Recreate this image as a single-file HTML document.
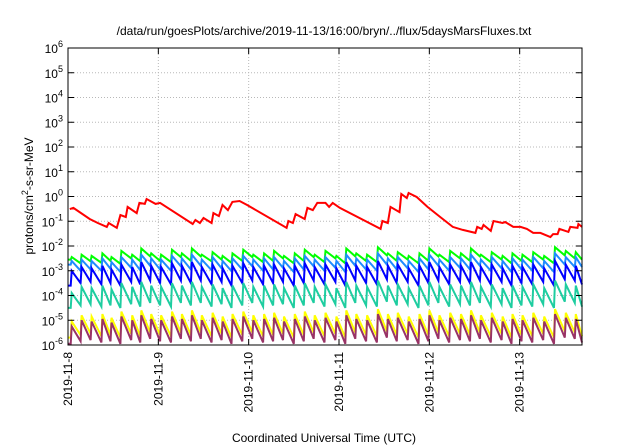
<!DOCTYPE html>
<html><head><meta charset="utf-8"><style>
body{margin:0;background:#fff}
svg{display:block;font-family:"Liberation Sans",sans-serif}
</style></head><body>
<svg id="chart" width="640" height="448" viewBox="0 0 640 448">
<rect width="640" height="448" fill="#fff"/>
<text x="324" y="35" font-size="12" text-anchor="middle">/data/run/goesPlots/archive/2019-11-13/16:00/bryn/../flux/5daysMarsFluxes.txt</text>
<text transform="translate(33,196) rotate(-90)" font-size="12" text-anchor="middle">protons/cm<tspan dy="-5" font-size="9">2</tspan><tspan dy="5">-s-sr-MeV</tspan></text>
<text x="324" y="442" font-size="12" text-anchor="middle">Coordinated Universal Time (UTC)</text>
<g id="grid"></g>
<g id="series"></g>
<g id="axes"></g>
</svg>
<script>
const xTickLabels = ["2019-11-8","2019-11-9","2019-11-10","2019-11-11","2019-11-12","2019-11-13"];
const xTickDays = [0,1,2,3,4,5];
const yTickExps = [-6,-5,-4,-3,-2,-1,0,1,2,3,4,5,6];
const xMaxDays = 5.69;
const redT = [0.02,0.06,0.24,0.33,0.43,0.45,0.54,0.58,0.64,0.66,0.76,0.79,0.85,0.87,0.97,1.02,1.38,1.41,1.46,1.50,1.59,1.61,1.67,1.71,1.77,1.82,1.90,1.98,2.42,2.44,2.49,2.52,2.62,2.65,2.71,2.76,2.85,2.89,2.93,3.01,3.46,3.48,3.54,3.57,3.67,3.69,3.75,3.77,3.86,3.98,4.12,4.26,4.37,4.51,4.53,4.58,4.60,4.68,4.71,4.81,4.84,4.93,5.01,5.08,5.15,5.23,5.34,5.37,5.42,5.44,5.54,5.56,5.64,5.65,5.69];
const redV = [-0.51,-0.46,-0.91,-1.07,-1.23,-1.07,-1.27,-0.75,-0.83,-0.42,-0.67,-0.26,-0.30,-0.10,-0.30,-0.26,-1.11,-0.95,-1.07,-0.87,-1.07,-0.67,-0.79,-0.34,-0.55,-0.22,-0.18,-0.34,-1.27,-0.99,-1.07,-0.71,-0.91,-0.46,-0.55,-0.26,-0.26,-0.42,-0.26,-0.46,-1.31,-0.99,-1.07,-0.42,-0.63,0.10,-0.06,0.14,-0.02,-0.42,-0.83,-1.23,-1.35,-1.47,-1.23,-1.31,-1.15,-1.39,-0.99,-1.07,-1.03,-1.23,-1.23,-1.31,-1.47,-1.47,-1.64,-1.52,-1.52,-1.31,-1.43,-1.23,-1.27,-1.11,-1.23];
const toothT = [0.03,0.14,0.25,0.37,0.47,0.58,0.70,0.80,0.91,1.02,1.14,1.25,1.36,1.47,1.59,1.70,1.81,1.93,2.04,2.16,2.27,2.38,2.50,2.61,2.72,2.84,2.96,3.07,3.18,3.30,3.42,3.53,3.64,3.76,3.88,3.99,4.10,4.22,4.34,4.45,4.56,4.68,4.80,4.91,5.02,5.14,5.26,5.38,5.50,5.61];
const gP = [-2.45,-2.35,-2.4,-2.3,-2.45,-2.2,-2.35,-2.1,-2.3,-2.35,-2.15,-2.3,-2.1,-2.35,-2.25,-2.4,-2.3,-2.15,-2.35,-2.3,-2.2,-2.4,-2.3,-2.15,-2.35,-2.2,-2.4,-2.1,-2.3,-2.35,-2.05,-2.3,-2.25,-2.4,-2.3,-2.1,-2.35,-2.2,-2.3,-2.1,-2.35,-2.25,-2.4,-2.3,-2.35,-2.25,-2.4,-2.05,-2.2,-2.25];
const gT = [-2.55,-2.7,-2.62,-2.68,-2.6,-2.72,-2.5,-2.62,-2.42,-2.6,-2.65,-2.45,-2.6,-2.42,-2.62,-2.55,-2.68,-2.6,-2.45,-2.65,-2.6,-2.5,-2.7,-2.6,-2.45,-2.65,-2.5,-2.7,-2.42,-2.6,-2.65,-2.38,-2.6,-2.55,-2.7,-2.6,-2.42,-2.65,-2.5,-2.6,-2.42,-2.65,-2.55,-2.7,-2.6,-2.65,-2.55,-2.7,-2.38,-2.5];
const lP = [-2.6,-2.55,-2.6,-2.5,-2.65,-2.45,-2.55,-2.35,-2.5,-2.55,-2.4,-2.5,-2.35,-2.55,-2.45,-2.6,-2.5,-2.4,-2.55,-2.5,-2.45,-2.6,-2.5,-2.4,-2.55,-2.45,-2.6,-2.35,-2.5,-2.55,-2.3,-2.5,-2.45,-2.6,-2.5,-2.35,-2.55,-2.45,-2.5,-2.35,-2.55,-2.45,-2.6,-2.5,-2.55,-2.45,-2.6,-2.3,-2.45,-2.45];
const lT = [-2.75,-3.0,-2.95,-3.0,-2.92,-3.05,-2.88,-2.98,-2.8,-2.95,-3.0,-2.82,-2.95,-2.8,-2.98,-2.9,-3.02,-2.95,-2.82,-3.0,-2.95,-2.88,-3.05,-2.95,-2.82,-3.0,-2.88,-3.05,-2.8,-2.95,-3.0,-2.75,-2.95,-2.9,-3.05,-2.95,-2.8,-3.0,-2.88,-2.95,-2.8,-3.0,-2.9,-3.05,-2.95,-3.0,-2.9,-3.05,-2.75,-2.85];
const bP = [-3.0,-2.85,-2.9,-2.8,-2.95,-2.75,-2.85,-2.65,-2.8,-2.85,-2.7,-2.8,-2.65,-2.85,-2.75,-2.9,-2.8,-2.7,-2.85,-2.8,-2.75,-2.9,-2.8,-2.7,-2.85,-2.75,-2.9,-2.65,-2.8,-2.85,-2.6,-2.8,-2.75,-2.9,-2.8,-2.65,-2.85,-2.75,-2.8,-2.65,-2.85,-2.75,-2.9,-2.8,-2.85,-2.75,-2.9,-2.6,-2.75,-2.8];
const bT = [-3.6,-3.5,-3.45,-3.55,-3.5,-3.6,-3.45,-3.55,-3.4,-3.5,-3.55,-3.4,-3.5,-3.4,-3.55,-3.45,-3.6,-3.5,-3.4,-3.55,-3.5,-3.45,-3.6,-3.5,-3.4,-3.55,-3.45,-3.6,-3.4,-3.5,-3.55,-3.35,-3.5,-3.45,-3.6,-3.5,-3.4,-3.55,-3.45,-3.5,-3.4,-3.55,-3.45,-3.6,-3.5,-3.55,-3.45,-3.6,-3.35,-3.4];
const tP = [-3.9,-3.65,-3.7,-3.6,-3.75,-3.5,-3.65,-3.45,-3.6,-3.65,-3.5,-3.6,-3.45,-3.65,-3.55,-3.7,-3.6,-3.5,-3.65,-3.6,-3.55,-3.7,-3.6,-3.5,-3.65,-3.55,-3.7,-3.45,-3.6,-3.65,-3.4,-3.6,-3.55,-3.7,-3.6,-3.45,-3.65,-3.55,-3.6,-3.45,-3.65,-3.55,-3.7,-3.6,-3.65,-3.55,-3.7,-3.4,-3.55,-3.6];
const tT = [-4.5,-4.4,-4.35,-4.45,-4.4,-4.5,-4.35,-4.45,-4.3,-4.4,-4.45,-4.3,-4.4,-4.3,-4.45,-4.35,-4.5,-4.4,-4.3,-4.45,-4.4,-4.35,-4.5,-4.4,-4.3,-4.45,-4.35,-4.5,-4.3,-4.4,-4.45,-4.25,-4.4,-4.35,-4.5,-4.4,-4.3,-4.45,-4.35,-4.4,-4.3,-4.45,-4.35,-4.5,-4.4,-4.45,-4.35,-4.5,-4.25,-4.3];
const yP = [-5.05,-4.8,-4.85,-4.75,-4.9,-4.65,-4.8,-4.6,-4.75,-4.8,-4.65,-4.75,-4.6,-4.8,-4.7,-4.85,-4.75,-4.65,-4.8,-4.75,-4.7,-4.85,-4.75,-4.65,-4.8,-4.7,-4.85,-4.6,-4.75,-4.8,-4.55,-4.75,-4.7,-4.85,-4.75,-4.6,-4.8,-4.7,-4.75,-4.6,-4.8,-4.7,-4.85,-4.75,-4.8,-4.7,-4.85,-4.55,-4.7,-4.75];
const yT = [-5.7,-5.6,-5.55,-5.65,-5.6,-5.7,-5.55,-5.65,-5.5,-5.6,-5.65,-5.5,-5.6,-5.5,-5.65,-5.55,-5.7,-5.6,-5.5,-5.65,-5.6,-5.55,-5.7,-5.6,-5.5,-5.65,-5.55,-5.7,-5.5,-5.6,-5.65,-5.45,-5.6,-5.55,-5.7,-5.6,-5.5,-5.65,-5.55,-5.6,-5.5,-5.65,-5.55,-5.7,-5.6,-5.65,-5.55,-5.7,-5.45,-5.5];
const pP = [-5.25,-5.0,-5.05,-4.95,-5.1,-4.85,-5.0,-4.8,-4.95,-5.0,-4.85,-4.95,-4.8,-5.0,-4.9,-5.05,-4.95,-4.85,-5.0,-4.95,-4.9,-5.05,-4.95,-4.85,-5.0,-4.9,-5.05,-4.8,-4.95,-5.0,-4.75,-4.95,-4.9,-5.05,-4.95,-4.8,-5.0,-4.9,-4.95,-4.8,-5.0,-4.9,-5.05,-4.95,-5.0,-4.9,-5.05,-4.75,-4.9,-4.95];
const pT = [-5.95,-5.85,-5.8,-5.9,-5.85,-5.95,-5.8,-5.9,-5.75,-5.85,-5.9,-5.75,-5.85,-5.75,-5.9,-5.8,-5.95,-5.85,-5.75,-5.9,-5.85,-5.8,-5.95,-5.85,-5.75,-5.9,-5.8,-5.95,-5.75,-5.85,-5.9,-5.7,-5.85,-5.8,-5.95,-5.85,-5.75,-5.9,-5.8,-5.85,-5.75,-5.9,-5.8,-5.95,-5.85,-5.9,-5.8,-5.95,-5.7,-5.75];
const endVals = [-2.55,-2.85,-3.55,-4.45,-5.65,-5.9];

const L=68,R=582,T=48,B=345;
const xs = d => L + d/xMaxDays*(R-L);
const ys = e => B - (e+6)/12*(B-T);
const NS="http://www.w3.org/2000/svg";
function mk(tag, attrs, parent){const e=document.createElementNS(NS,tag);for(const k in attrs)e.setAttribute(k,attrs[k]);parent.appendChild(e);return e;}
const grid=document.getElementById('grid'), axes=document.getElementById('axes'), ser=document.getElementById('series');

yTickExps.forEach(e=>{
  const y=ys(e);
  if(e>-6&&e<6){const g=mk('line',{x1:L,x2:R,y1:y,y2:y,stroke:'#b8b8b8','stroke-width':1,'stroke-dasharray':'1,2'},grid);
  
  }
  const t1=mk('line',{x1:L,x2:L+6,y1:y,y2:y,stroke:'#000'},axes);
  
  
  const t2=mk('line',{x1:R,x2:R-6,y1:y,y2:y,stroke:'#000'},axes);
  
  
  const lb=mk('text',{x:L-5,y:y+5,'font-size':12,'text-anchor':'end'},axes);
  
  
  lb.innerHTML='10<tspan dy="-6" font-size="9">'+e+'</tspan>';
});
xTickDays.forEach((d,i)=>{
  const x=xs(d);
  if(d>0){const g=mk('line',{x1:x,x2:x,y1:T,y2:B,stroke:'#b8b8b8','stroke-width':1,'stroke-dasharray':'1,2'},grid);
  
  }
  const t1=mk('line',{x1:x,x2:x,y1:B,y2:B-6,stroke:'#000'},axes);
  
  
  const t2=mk('line',{x1:x,x2:x,y1:T,y2:T+6,stroke:'#000'},axes);
  
  
  const lb=mk('text',{transform:`translate(${x+4},352) rotate(-90)`,'font-size':12,'text-anchor':'end'},axes);
  
  
  lb.textContent=xTickLabels[i];
});
const fr=mk('rect',{x:L,y:T,width:R-L,height:B-T,fill:'none',stroke:'#000','stroke-width':1},axes);



function line(pts,color,name){
  const p=mk('polyline',{points:pts.map(q=>q[0].toFixed(1)+','+q[1].toFixed(1)).join(' '),fill:'none',stroke:color,'stroke-width':2,'stroke-linejoin':'miter'},ser);
  
  
}
line(redT.map((t,i)=>[xs(t),ys(redV[i])]),'#ff0000','series-red');
const lower=[[gP,gT,'#00ff00','series-green'],[lP,lT,'#1e8cff','series-light-blue'],[bP,bT,'#0000ff','series-blue'],[tP,tT,'#1ecda0','series-teal'],[yP,yT,'#ffff00','series-yellow'],[pP,pT,'#993366','series-purple']];
lower.forEach((s,si)=>{
  const pts=[[xs(0),ys(s[1][0])]];
  toothT.forEach((t,k)=>{pts.push([xs(t),ys(s[1][k])]);pts.push([xs(t)+1,ys(s[0][k])]);});
  pts.push([xs(xMaxDays),ys(endVals[si])]);
  line(pts,s[2],s[3]);
});
</script>
</body></html>
